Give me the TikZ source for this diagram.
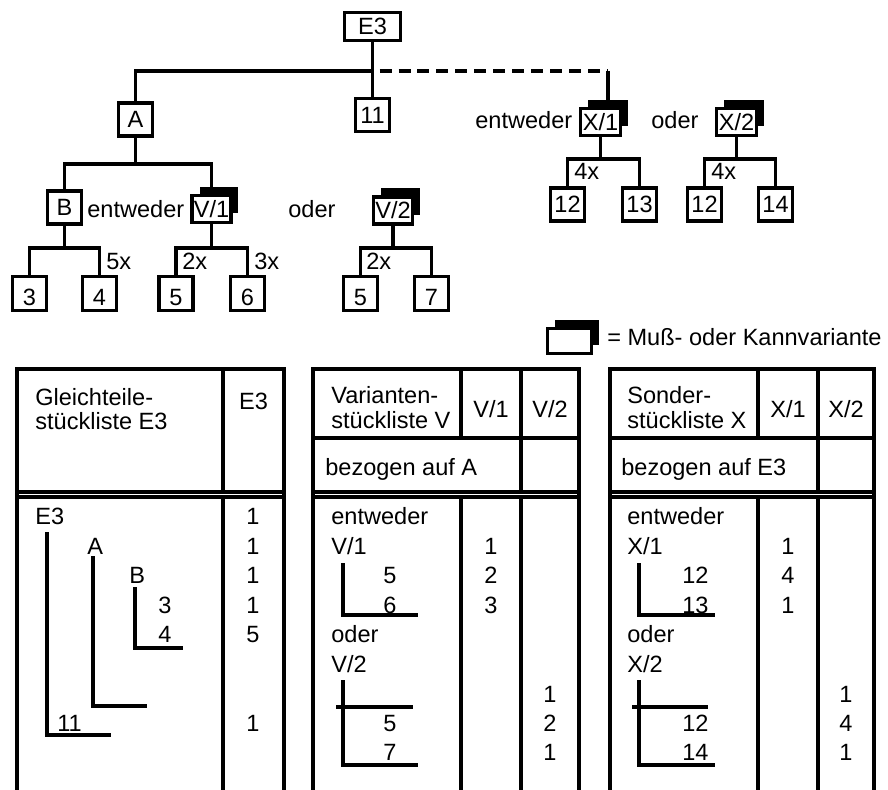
\documentclass[tikz,border=0pt]{standalone}
\usepackage{fontspec}
\setmainfont{Liberation Sans}
\usetikzlibrary{shadows}

\tikzset{
  partbox/.style={draw, line width=1.8pt, inner sep=0pt, minimum width=0.68cm, minimum height=0.66cm, text height=0.34cm, text depth=0pt},
  leafbox/.style={partbox, minimum height=0.68cm, text height=0.48cm},
  varbox/.style={partbox, fill=white, minimum width=0.78cm, minimum height=0.54cm, general shadow={fill=black, shadow xshift=0.15cm, shadow yshift=0.18cm}},
  txt/.style={inner sep=0pt, anchor=base west},
  num/.style={inner sep=0pt, anchor=base},
  conn/.style={line width=1.8pt},
  tab/.style={line width=1.8pt},
}

\begin{document}
\begin{tikzpicture}[x=0.02cm, y=-0.02cm, font=\fontsize{13.4pt}{14pt}\selectfont]
    \useasboundingbox (0,0) rectangle (888,790);

    % Erzeugnis E3 und Baugruppen
    \node[partbox, minimum width=1.12cm, minimum height=0.56cm] (e3) at (372.5,26.5) {E3};
    \node[partbox] (a) at (135.5,119.5) {A};
    \node[partbox] (n11) at (372.5,115) {11};
    \node[partbox] (b) at (64.5,207.5) {B};
    \node[varbox] (v1) at (211.5,209) {V/1};
    \node[varbox] (v2) at (393,210.5) {V/2};
    \node[leafbox] (n3) at (29.5,293.5) {3};
    \node[leafbox] (n4) at (99.5,293.5) {4};
    \node[leafbox] (n5a) at (176,293.5) {5};
    \node[leafbox] (n6) at (247.5,293.5) {6};
    \node[leafbox] (n5b) at (360.5,293.5) {5};
    \node[leafbox] (n7) at (431.5,293.5) {7};

    % Sondervarianten X
    \node[varbox, minimum width=0.8cm] (x1) at (600.5,122) {X/1};
    \node[varbox, minimum width=0.8cm] (x2) at (736.5,122) {X/2};
    \node[partbox] (n12a) at (567.5,204.5) {12};
    \node[partbox] (n13) at (639.5,204.5) {13};
    \node[partbox] (n12b) at (704.5,204.5) {12};
    \node[partbox] (n14) at (775.5,204.5) {14};

    % Beschriftungen
    \node[txt] (ew1) at (87,218) {entweder};
    \node[txt] (od1) at (288,218) {oder};
    \node[txt] (ew2) at (475,129) {entweder};
    \node[txt] (od2) at (651,129) {oder};
    \node[txt] (q4) at (106,270) {5x};
    \node[txt] (q5a) at (182,270) {2x};
    \node[txt] (q6) at (254,270) {3x};
    \node[txt] (q5b) at (366,270) {2x};
    \node[txt] (q12a) at (574,180) {4x};
    \node[txt] (q12b) at (711,180) {4x};

    % Verbindungen
    \coordinate (busE) at (372.5,71);
    \coordinate (x1top) at ([xshift=0.15cm]x1.north);
    \draw[conn] (e3) -- (n11);
    \draw[conn] (a.north) |- (busE);
    \draw[conn, dash pattern=on 0.24cm off 0.14cm, dash phase=0.24cm] (busE) -- (busE -| x1top);
    \draw[conn] (busE -| x1top) -- (x1top);

    \coordinate (busA) at (135.5,164);
    \draw[conn] (a) -- (busA);
    \draw[conn] (b.north) |- (busA) -| (v1.north);

    \coordinate (busB) at (64.5,248);
    \draw[conn] (b) -- (busB);
    \draw[conn] (n3.north) |- (busB) -| (n4.north);
    \coordinate (busV1) at (211.5,248);
    \draw[conn] (v1) -- (busV1);
    \draw[conn] (n5a.north) |- (busV1) -| (n6.north);
    \coordinate (busV2) at (393,248);
    \draw[conn] (v2) -- (busV2);
    \draw[conn] (n5b.north) |- (busV2) -| (n7.north);

    \coordinate (busX1) at (600.5,159);
    \draw[conn] (x1) -- (busX1);
    \draw[conn] (n12a.north) |- (busX1) -| (n13.north);
    \coordinate (busX2) at (736.5,159);
    \draw[conn] (x2) -- (busX2);
    \draw[conn] (n12b.north) |- (busX2) -| (n14.north);

    % Legende
    \node[varbox, minimum width=0.88cm, minimum height=0.5cm] (leg) at (569.5,341) {};
    \node[txt] (legtxt) at (607,345) {= Muß- oder Kannvariante};

    % Gleichteilestueckliste
    \draw[tab] (17,790) -- (17,369) -- (284,369) -- (284,790);
    \draw[tab] (223,369) -- (223,492) (223,497) -- (223,790);
    \draw[tab] (17,492) -- (284,492) (17,497) -- (284,497);
    \node[txt] (g1) at (35,405) {Gleichteile-};
    \node[txt] (g2) at (35,429) {stückliste E3};
    \node[num] (g3) at (253.5,409) {E3};
    \node[txt] (ge3) at (35,524) {E3};
    \node[txt] (ga) at (87,554) {A};
    \node[txt] (gb) at (129,583) {B};
    \node[txt] (g3a) at (158,613) {3};
    \node[txt] (g4) at (158,642) {4};
    \node[txt] (g11) at (57,731) {11};
    \node[num] (m1) at (253,524) {1};
    \node[num] (m2) at (253,554) {1};
    \node[num] (m3) at (253,583) {1};
    \node[num] (m4) at (253,613) {1};
    \node[num] (m5) at (253,642) {5};
    \node[num] (m6) at (253,731) {1};
    \draw[conn] (47,532) |- (111,735);
    \draw[conn] (93,556) |- (147,706);
    \draw[conn] (135,587) |- (183,648);

    % Variantenstueckliste V
    \draw[tab] (313,790) -- (313,369) -- (579,369) -- (579,790);
    \draw[tab] (313,438) -- (579,438);
    \draw[tab] (461,369) -- (461,438) (461,497) -- (461,790);
    \draw[tab] (521,369) -- (521,492) (521,497) -- (521,790);
    \draw[tab] (313,492) -- (579,492) (313,497) -- (579,497);
    \node[txt] (vh1) at (331,403) {Varianten-};
    \node[txt] (vh2) at (331,428) {stückliste V};
    \node[num] (vh3) at (491,417) {V/1};
    \node[num] (vh4) at (550,417) {V/2};
    \node[txt] (vh5) at (325,475) {bezogen auf A};
    \node[txt] (vew) at (331,524) {entweder};
    \node[txt] (vv1) at (331,554) {V/1};
    \node[txt] (vr5a) at (383,583) {5};
    \node[txt] (vr6) at (383,613) {6};
    \node[txt] (vod) at (331,642) {oder};
    \node[txt] (vv2) at (331,672) {V/2};
    \node[txt] (vr5b) at (383,731) {5};
    \node[txt] (vr7) at (383,760) {7};
    \node[num] (vm1) at (491,554) {1};
    \node[num] (vm2) at (491,583) {2};
    \node[num] (vm3) at (491,613) {3};
    \node[num] (vm4) at (550,702) {1};
    \node[num] (vm5) at (550,731) {2};
    \node[num] (vm6) at (550,760) {1};
    \draw[conn] (343,563) |- (418,615);
    \draw[conn] (343,680) |- (418,765);
    \draw[conn] (336,707) -- (413,707);

    % Sonderstueckliste X
    \draw[tab] (610,790) -- (610,369) -- (874,369) -- (874,790);
    \draw[tab] (610,438) -- (874,438);
    \draw[tab] (758,369) -- (758,438) (758,497) -- (758,790);
    \draw[tab] (818,369) -- (818,492) (818,497) -- (818,790);
    \draw[tab] (610,492) -- (874,492) (610,497) -- (874,497);
    \node[txt] (xh1) at (627,403) {Sonder-};
    \node[txt] (xh2) at (627,428) {stückliste X};
    \node[num] (xh3) at (788,417) {X/1};
    \node[num] (xh4) at (846,417) {X/2};
    \node[txt] (xh5) at (621,475) {bezogen auf E3};
    \node[txt] (xew) at (627,524) {entweder};
    \node[txt] (xx1) at (627,554) {X/1};
    \node[txt] (xr12a) at (682,583) {12};
    \node[txt] (xr13) at (682,613) {13};
    \node[txt] (xod) at (627,642) {oder};
    \node[txt] (xx2) at (627,672) {X/2};
    \node[txt] (xr12b) at (682,731) {12};
    \node[txt] (xr14) at (682,760) {14};
    \node[num] (xm1) at (788,554) {1};
    \node[num] (xm2) at (788,583) {4};
    \node[num] (xm3) at (788,613) {1};
    \node[num] (xm4) at (846,702) {1};
    \node[num] (xm5) at (846,731) {4};
    \node[num] (xm6) at (846,760) {1};
    \draw[conn] (639,563) |- (715,615);
    \draw[conn] (639,680) |- (715,765);
    \draw[conn] (632,707) -- (708,707);
\end{tikzpicture}
\end{document}
